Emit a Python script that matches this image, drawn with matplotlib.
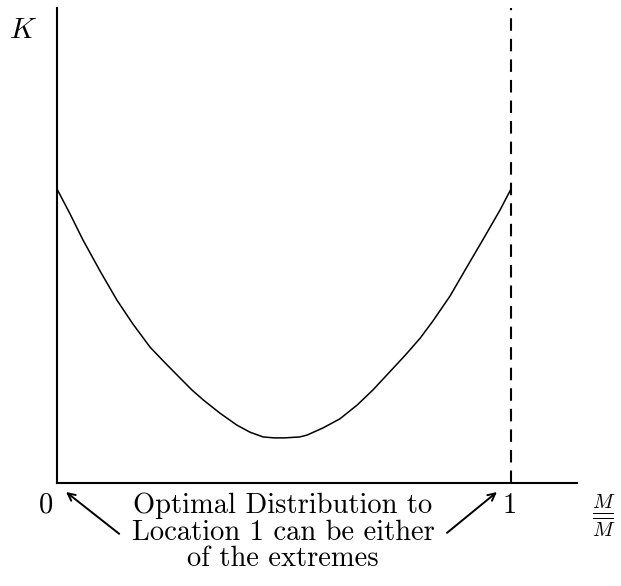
import matplotlib
matplotlib.use("Agg")
import matplotlib.pyplot as plt

plt.rcParams["mathtext.fontset"] = "cm"
plt.rcParams["font.family"] = ["cmr10", "DejaVu Serif"]
plt.rcParams["axes.unicode_minus"] = False
plt.rcParams["lines.scale_dashes"] = False

# Share of M sent to location 1 (M / M-bar) and the cost K at each share
share = [0.000, 0.029, 0.057, 0.095, 0.132, 0.167, 0.205, 0.238, 0.271,
         0.297, 0.322, 0.359, 0.396, 0.425, 0.454, 0.478, 0.502,
         0.535, 0.551, 0.586, 0.623, 0.661, 0.696, 0.733, 0.767, 0.800,
         0.828, 0.866, 0.903, 0.938, 0.976, 1.000]
cost = [0.619, 0.566, 0.512, 0.446, 0.385, 0.335, 0.286, 0.253, 0.221,
        0.196, 0.175, 0.147, 0.122, 0.107, 0.097, 0.095, 0.095,
        0.097, 0.101, 0.116, 0.135, 0.164, 0.196, 0.234, 0.269, 0.305,
        0.341, 0.394, 0.455, 0.512, 0.575, 0.619]

x_tick_labels = ["0", "1"]
x_tick_pos = [0.0, 1.0]
note = "Optimal Distribution to\nLocation 1 can be either\nof the extremes"

W, H = 621, 586
fig = plt.figure(figsize=(W / 100, H / 100), dpi=100)
ax = fig.add_axes([57 / W, (H - 483) / H, (577 - 57) / W, (483 - 8) / H])
ax.set_xlim(0, 520 / 454)
ax.set_ylim(0, 1)

for side in ("top", "right"):
    ax.spines[side].set_visible(False)
for side in ("left", "bottom"):
    ax.spines[side].set_linewidth(1.5)
ax.set_xticks([])
ax.set_yticks([])

ax.plot(share, cost, color="black", lw=1.1, solid_joinstyle="round")
ax.plot([1, 1], [0, 1], color="black", lw=1.5, dashes=(9, 5.8), clip_on=False)

for pos, lab in zip(x_tick_pos, x_tick_labels):
    dx = -0.025 if pos == 0 else -0.004
    ax.text(pos + dx, -0.048, lab, ha="center", va="center", fontsize=20.5,
            clip_on=False)

ax.text(1.205, -0.069, r"$\frac{M}{\overline{M}}$", ha="center", va="center",
        fontsize=21, clip_on=False)
ax.text(-0.074, 0.952, r"$K$", ha="center", va="center", fontsize=21, clip_on=False)

ax.text(0.498, -0.021, note, ha="center", va="top", fontsize=20.5,
        linespacing=1.0, clip_on=False)

arrow = dict(arrowstyle="->", color="black", lw=1.4, shrinkA=0, shrinkB=0,
             mutation_scale=13)
ax.annotate("", xy=(0.020, -0.019), xytext=(0.137, -0.107), arrowprops=arrow,
            annotation_clip=False)
ax.annotate("", xy=(0.969, -0.019), xytext=(0.859, -0.105), arrowprops=arrow,
            annotation_clip=False)

fig.savefig("out.png", dpi=100)
